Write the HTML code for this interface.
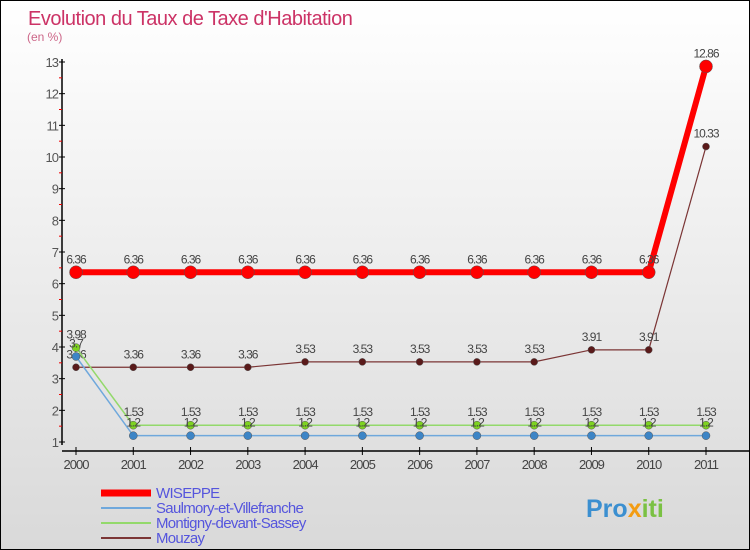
<!DOCTYPE html>
<html><head><meta charset="utf-8"><style>
body{margin:0}
#c{width:748px;height:548px;border:1px solid #000;background:linear-gradient(#fff,#d9d9d9);position:relative;font-family:"Liberation Sans",sans-serif}
svg{position:absolute;left:0;top:0}
</style></head><body>
<div id="c">
<svg id="s" width="748" height="548" font-family="Liberation Sans, sans-serif"></svg>
</div>
<script>
const years=[2000,2001,2002,2003,2004,2005,2006,2007,2008,2009,2010,2011];
const wiseppe=[6.36,6.36,6.36,6.36,6.36,6.36,6.36,6.36,6.36,6.36,6.36,12.86];
const saulmory=[3.7,1.2,1.2,1.2,1.2,1.2,1.2,1.2,1.2,1.2,1.2,1.2];
const montigny=[3.98,1.53,1.53,1.53,1.53,1.53,1.53,1.53,1.53,1.53,1.53,1.53];
const mouzay=[3.36,3.36,3.36,3.36,3.53,3.53,3.53,3.53,3.53,3.91,3.91,10.33];
const yTicks=[1,2,3,4,5,6,7,8,9,10,11,12,13];
const series=[
 {name:'WISEPPE',data:wiseppe,color:'#ff0000',w:6,r:6.5,id:'wiseppe',pc:'#ff0000'},
 {name:'Saulmory-et-Villefranche',data:saulmory,color:'#6fa8dc',w:1.5,r:4,id:'saulmory',pc:'#3d85c6'},
 {name:'Montigny-devant-Sassey',data:montigny,color:'#93d96b',w:1.5,r:4,id:'montigny',pc:'#7ed321'},
 {name:'Mouzay',data:mouzay,color:'#7b3535',w:1.2,r:3.5,id:'mouzay',pc:'#5a1a1a'}];
const X=i=>75+i*(630/11), Y=v=>441-(v-1)*(380/12);
const s=document.getElementById('s');const NS='http://www.w3.org/2000/svg';
function el(t,a,txt){const e=document.createElementNS(NS,t);for(const k in a)e.setAttribute(k,a[k]);if(txt!=null)e.textContent=txt;s.appendChild(e);return e;}
let e;
e=el('text',{x:27,y:24,'font-size':20,fill:'#cc3366','letter-spacing':'-0.5'},"Evolution du Taux de Taxe d'Habitation");


e=el('text',{x:26,y:40,'font-size':12,fill:'#cc6688'},'(en %)');


e=el('line',{x1:61,y1:58,x2:61,y2:444,stroke:'#000','stroke-width':1.5});


e=el('line',{x1:61,y1:450,x2:748,y2:450,stroke:'#000','stroke-width':1.5});


yTicks.forEach(v=>{
 el('line',{x1:58,y1:Y(v),x2:64,y2:Y(v),stroke:'#000'});
 if(v<13){el('line',{x1:58,y1:Y(v+0.5),x2:61,y2:Y(v+0.5),stroke:'#e00'});}
 e=el('text',{x:57,y:Y(v)+5,'font-size':13,fill:'#555','text-anchor':'end','letter-spacing':'-1'},v);
 
 
});
years.forEach((y,i)=>{
 el('line',{x1:X(i),y1:446,x2:X(i),y2:454,stroke:'#000'});
 e=el('text',{x:X(i),y:468,'font-size':13,fill:'#444','text-anchor':'middle','letter-spacing':'-1'},y);
 
 
});
[...series].reverse().forEach(se=>{
 e=el('polyline',{points:se.data.map((v,i)=>X(i)+','+Y(v)).join(' '),fill:'none',stroke:se.color,'stroke-width':se.w});
 
 
 se.data.forEach((v,i)=>{
  e=el('circle',{cx:X(i),cy:Y(v),r:se.r,fill:se.pc,stroke:'#555','stroke-width':0.5});
  
  
  e=el('text',{x:X(i),y:Y(v)-9,'font-size':12,fill:'#444','text-anchor':'middle','letter-spacing':'-1'},String(v));
  
  
 });
});
series.forEach((se,k)=>{
 const y=492+k*15;
 e=el('line',{x1:100,y1:y,x2:150,y2:y,stroke:se.color,'stroke-width':k==0?7:2});
 
 
 e=el('text',{x:155,y:y+5,'font-size':15,fill:'#5555dd','letter-spacing':'-0.7'},se.name);
 
 
});
e=el('text',{x:585,y:516,'font-size':25,'font-weight':'bold',fill:'#3b8fd0'});


e.innerHTML='<tspan fill="#3b8fd0">Pro</tspan><tspan fill="#f39c12">x</tspan><tspan fill="#7ac143">iti</tspan>';
</script>
</body></html>
